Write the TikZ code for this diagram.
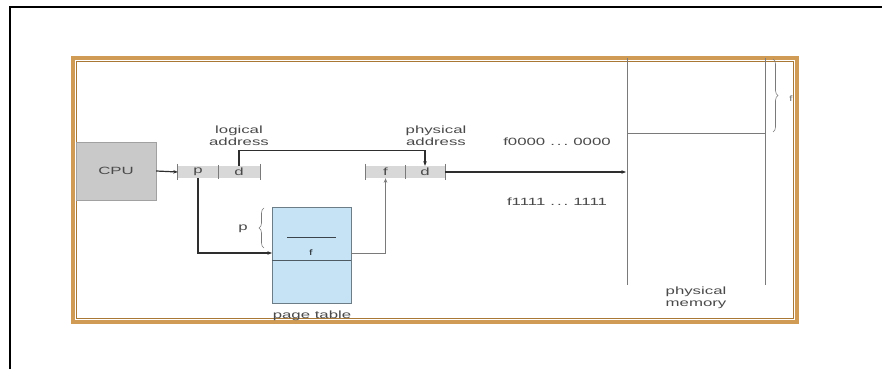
\documentclass[tikz,border=0pt]{standalone}
\usepackage{fontspec}
\newfontfamily\lblfont{Liberation Sans}[FakeStretch=1.6]
\usetikzlibrary{arrows.meta,decorations.pathreplacing,calc}
\definecolor{frameC}{HTML}{D09C55}
\definecolor{frameD}{HTML}{A97834}
\definecolor{cpuC}{HTML}{C9C9C9}
\definecolor{regC}{HTML}{D8D8D8}
\definecolor{ptC}{HTML}{C6E3F6}
\definecolor{txtC}{HTML}{4A4A4A}
\definecolor{lineC}{HTML}{2E2E2E}
\definecolor{memC}{HTML}{7A7A7A}
\tikzset{
  lbl/.style={font=\lblfont\fontsize{10.5}{12}\selectfont, text=txtC, inner sep=0pt, align=center},
  cell/.style={fill=regC, draw=none, minimum height=12pt, inner sep=0pt, font=\lblfont\fontsize{10.5}{12}\selectfont, text=txtC},
  tick/.style={draw=memC, line width=0.7pt},
  conn/.style={draw=lineC, line width=1.2pt, -{Stealth[length=4.5pt,width=3.5pt]}},
  thinconn/.style={draw=memC, line width=0.9pt, -{Stealth[length=4.5pt,width=3.5pt]}},
  memline/.style={draw=memC, line width=0.9pt},
  brc/.style={draw=memC, line width=0.6pt, decorate, decoration={brace, amplitude=5pt}}
}
\newcommand{\sdots}{\hspace{5pt}.\hspace{2pt}.\hspace{2pt}.\hspace{5pt}}
\begin{document}
\begin{tikzpicture}[x=1pt,y=-1pt]
\useasboundingbox (0,0) rectangle (882,369);
\fill[white] (0,0) rectangle (882,369);
% outer black partial border
\draw[black, line width=2.4pt] (10,369) -- (10,7) -- (882,7);
% orange double frame
\draw[frameC, line width=3.5pt] (73,58) rectangle (797,322);
\draw[frameD, line width=0.7pt] (76.5,61.5) rectangle (793.5,318.5);
% memory
\coordinate (mtl) at (627,58);
\coordinate (mtr) at (765,58);
\coordinate (mbl) at (627,285);
\coordinate (mbr) at (765,285);
\coordinate (mfl) at (627,133);
\coordinate (mfr) at (765,133);
\coordinate (memin) at (626,172);
\draw[memline] (mtl) -- (mbl);
\draw[memline] (mtr) -- (mbr);
\draw[memline] (mfl) -- (mfr);
\draw[brc] (773,59) -- (773,132);
\node[lbl, text=memC, font=\lblfont\fontsize{8}{9}\selectfont] (fm) at (791,99) {f};
% CPU
\node[fill=cpuC, draw=cpuC!80!black, line width=0.3pt, minimum width=80pt, minimum height=58pt, inner sep=0pt, lbl] (cpu) at (116,171) {CPU};
% logical register
\node[cell, minimum width=40pt] (lp) at (198,172) {p};
\node[cell, minimum width=42pt] (ld) at (239,172) {d};
\draw[tick] ($(lp.north west)+(0,-2)$) -- ($(lp.south west)+(0,2)$);
\draw[tick] ($(lp.north east)+(0,-1)$) -- ($(lp.south east)+(0,1)$);
\draw[tick] ($(ld.north east)+(0,-2)$) -- ($(ld.south east)+(0,2)$);
% physical register
\node[cell, minimum width=39pt] (pf) at (385.5,172) {f};
\node[cell, minimum width=40pt] (pd) at (425,172) {d};
\draw[tick] ($(pf.north west)+(0,-2)$) -- ($(pf.south west)+(0,2)$);
\draw[tick] ($(pf.north east)+(0,-1)$) -- ($(pf.south east)+(0,1)$);
\draw[tick] ($(pd.north east)+(0,-2)$) -- ($(pd.south east)+(0,2)$);
% page table
\node[fill=ptC, draw=ptC!55!black, line width=0.5pt, minimum width=79pt, minimum height=96pt, inner sep=0pt] (pt) at (311.5,255) {};
\draw[draw=ptC!40!black, line width=0.7pt] (pt.west |- 0,260) -- (pt.east |- 0,260);
\draw[draw=ptC!30!black, line width=0.8pt] (287,237) -- (336,237);
\node[lbl, font=\lblfont\fontsize{8}{9}\selectfont, text=ptC!20!black] (fe) at (311,253) {f};
\coordinate (ptin) at (272,253);
\coordinate (ptout) at (351,253);
\draw[brc] (264,248) -- (264,208);
\node[lbl] (pl) at (243,229) {p};
% labels
\node[lbl] (la) at (239,136) {logical\\address};
\node[lbl] (pa) at (436,136) {physical\\address};
\node[lbl] (f0) at (557,142) {f0000\sdots{}0000};
\node[lbl] (f1) at (557,202) {f1111\sdots{}1111};
\node[lbl] (pm) at (696,298) {physical\\memory};
\node[lbl] (ptl) at (312,316) {page table};
% connectors
\draw[conn] (cpu.east) -- (lp.west);
\draw[conn] (ld.north) -- ++(0,-15) -| (pd.north);
\draw[conn] (pd.east) -- (memin);
\draw[conn] (lp.south) |- (ptin);
\draw[thinconn] (ptout) -| (pf.south);
\end{tikzpicture}
\end{document}
